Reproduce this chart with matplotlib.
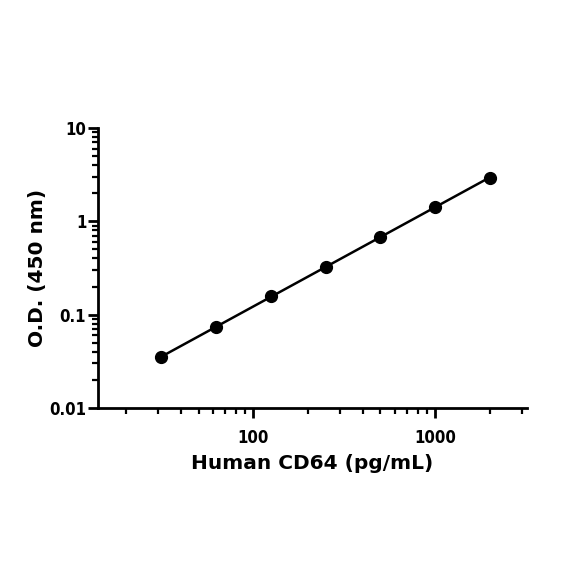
import matplotlib
matplotlib.use("Agg")
import matplotlib.pyplot as plt
import matplotlib.ticker as ticker
import numpy as np

# standard curve
conc = [31.25, 62.5, 125, 250, 500, 1000, 2000]
od = [0.0352, 0.0738, 0.158, 0.324, 0.68, 1.43, 2.92]

plt.rcParams['font.family'] = ['DejaVu Sans']
plt.rcParams['font.weight'] = 'bold'

fig = plt.figure(figsize=(5.84, 5.84), dpi=100)
ax = fig.add_axes([98 / 584, 1 - 408 / 584, (527 - 98) / 584, (408 - 128) / 584])

# straight fit line in log-log space through the points
lx = np.log10(conc)
ly = np.log10(od)
slope, icpt = np.polyfit(lx, ly, 1)
xs = np.array([conc[0], conc[-1]])
ax.plot(xs, 10 ** (icpt + slope * np.log10(xs)), color='black', linewidth=1.8, zorder=2)
ax.plot(conc, od, 'o', color='black', markersize=8.5, zorder=3)

ax.set_xscale('log')
ax.set_yscale('log')
ax.set_xlim(14, 3200)
ax.set_ylim(0.01, 10)

ax.spines['top'].set_visible(False)
ax.spines['right'].set_visible(False)
for s in ['left', 'bottom']:
    ax.spines[s].set_linewidth(2)

ax.xaxis.set_major_locator(ticker.FixedLocator([100, 1000]))
ax.xaxis.set_major_formatter(ticker.FixedFormatter(['100', '1000']))
ax.xaxis.set_minor_locator(ticker.LogLocator(base=10, subs=np.arange(2, 10)))
ax.xaxis.set_minor_formatter(ticker.NullFormatter())
ax.yaxis.set_major_locator(ticker.FixedLocator([0.01, 0.1, 1, 10]))
ax.yaxis.set_major_formatter(ticker.FixedFormatter(['0.01', '0.1', '1', '10']))
ax.yaxis.set_minor_locator(ticker.LogLocator(base=10, subs=np.arange(2, 10)))
ax.yaxis.set_minor_formatter(ticker.NullFormatter())

ax.tick_params(which='major', direction='out', length=7, width=2)
ax.tick_params(axis='x', which='major', pad=8)
ax.tick_params(axis='y', which='major', pad=1.5)
ax.tick_params(which='minor', direction='out', length=4, width=1.6)
for lab in ax.get_xticklabels() + ax.get_yticklabels():
    lab.set_fontsize(12)
    lab.set_fontstretch('condensed')
    lab.set_fontweight('bold')

ax.set_xlabel('Human CD64 (pg/mL)', fontsize=14.5, fontweight='bold', labelpad=5)
ax.set_ylabel('O.D. (450 nm)', fontsize=14.5, fontweight='bold')
ax.yaxis.set_label_coords(-0.119, 0.5)

plt.savefig('out.png', dpi=100)
plt.close()
